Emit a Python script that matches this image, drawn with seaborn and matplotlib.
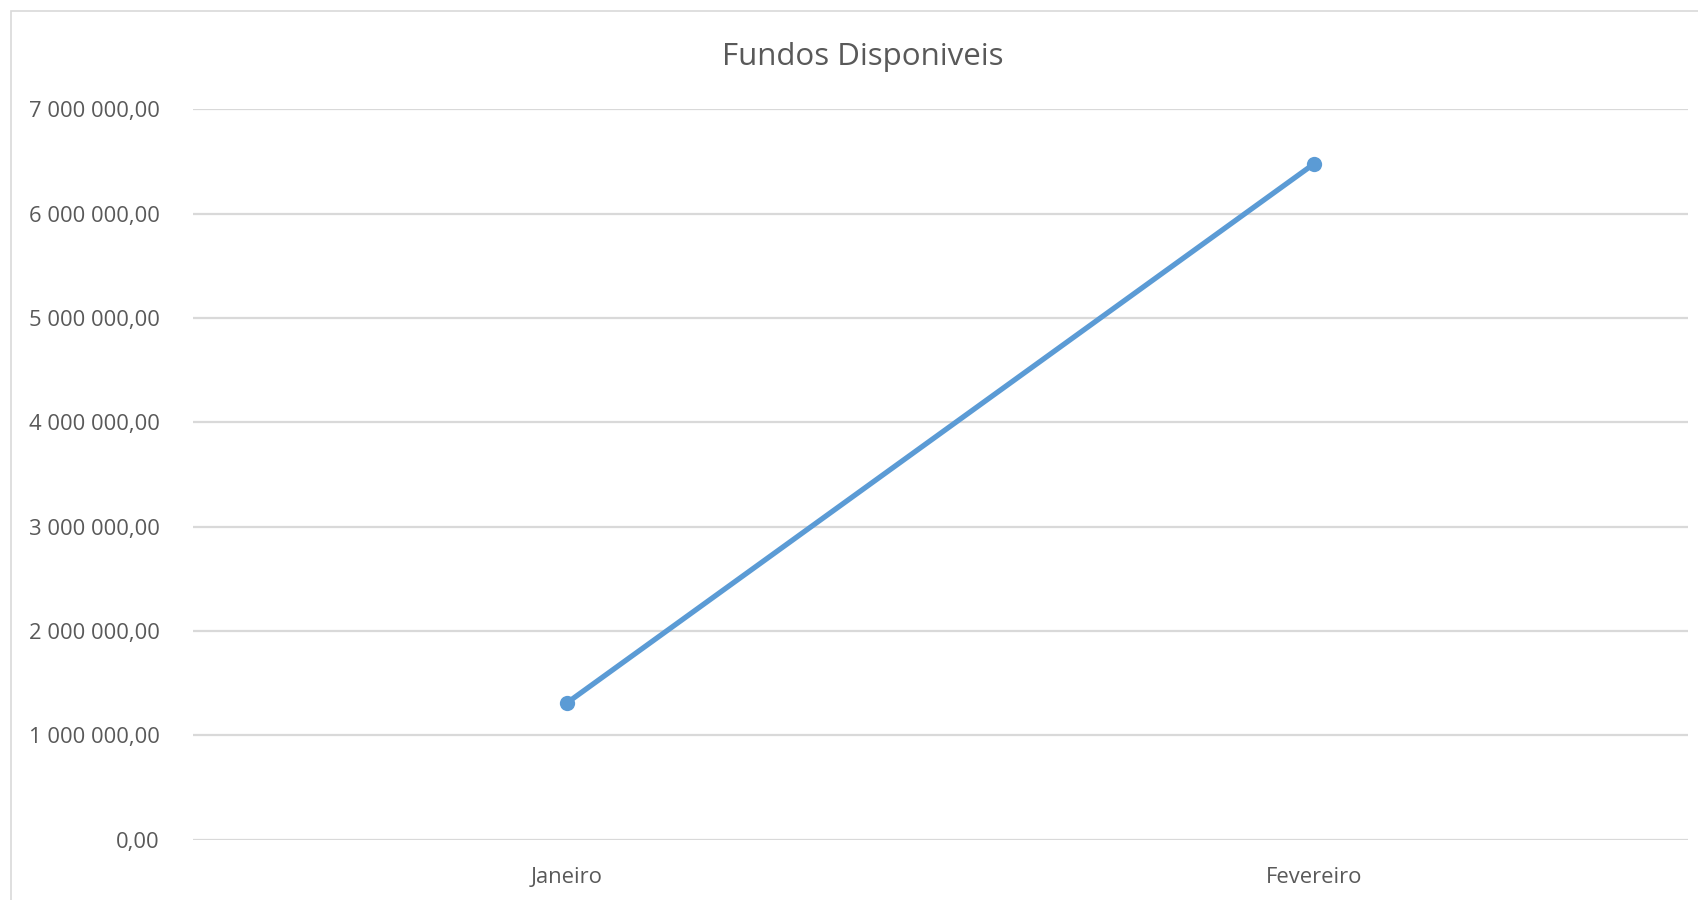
import matplotlib
matplotlib.use("Agg")
import matplotlib.pyplot as plt
import seaborn as sns
import pandas as pd
from matplotlib.ticker import FuncFormatter, MultipleLocator
from matplotlib.patches import Rectangle

months = ["Janeiro", "Fevereiro"]
fundos = [1310000.0, 6480000.0]
title = "Fundos Disponiveis"

sns.set_theme(style="white")
plt.rcParams['font.family'] = ['Open Sans', 'DejaVu Sans']

df = pd.DataFrame({"Mes": months, "Fundos": fundos})

W, H = 1699, 900
fig = plt.figure(figsize=(W / 100, H / 100), dpi=100)
ax = fig.add_axes([193 / W, 1 - 839.7 / H, (1688 - 193) / W, (839.7 - 109.4) / H])

sns.lineplot(data=df, x="Mes", y="Fundos", ax=ax, color="#5b9bd5", linewidth=3.8,
             marker="o", markersize=11, markeredgewidth=0, sort=False, zorder=3)

ax.set_xlim(-0.5, 1.5)
ax.set_ylim(0, 7000000)
ax.yaxis.set_major_locator(MultipleLocator(1000000))

def fmt(v, pos):
    s = f"{v:,.2f}"
    return s.replace(",", " ").replace(".", ",")

ax.yaxis.set_major_formatter(FuncFormatter(fmt))
ax.grid(axis="y", color="#d9d9d9", linewidth=1.6)
ax.grid(axis="x", visible=False)
for s in ax.spines.values():
    s.set_visible(False)
ax.tick_params(axis="y", length=0, pad=24, labelsize=15.8, labelcolor="#595959")
ax.tick_params(axis="x", length=0, pad=20, labelsize=15.8, labelcolor="#595959")
ax.set_xlabel("")
ax.set_ylabel("")

fig.text(863 / W, 1 - 57 / H, title, ha="center", va="center", fontsize=22.5, color="#595959")

fig.patches.append(Rectangle((11 / W, -0.05), 1.2, 1 - 11 / H + 0.05, transform=fig.transFigure,
                             fill=False, edgecolor="#d9d9d9", linewidth=1.2, zorder=0))

fig.savefig("out.png", dpi=100, facecolor="white")
